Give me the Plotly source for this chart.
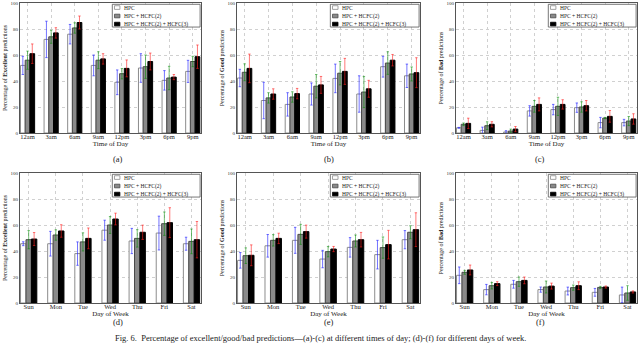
import plotly.graph_objects as go
from plotly.subplots import make_subplots

# ── Data ──────────────────────────────────────────────────────────────
TIMES = ['12am', '3am', '6am', '9am', '12pm', '3pm', '6pm', '9pm']
DAYS = ['Sun', 'Mon', 'Tue', 'Wed', 'Thu', 'Fri', 'Sat']
SERIES = ['HPC', 'HPC + HCFC(2)', 'HPC + HCFC(2) + HCFC(3)']

# (a) excellent predictions by time of day
EXC_TIME_HPC = [52, 72, 76, 52, 39, 50, 40.5, 47.4]
EXC_TIME_HPC_ERR = [7, 14, 7.5, 8, 9.5, 11, 7.5, 8.5]
EXC_TIME_H2 = [56, 74, 80.8, 56, 45.6, 51, 42.3, 55]
EXC_TIME_H2_ERR = [7, 5, 4, 6.5, 4, 9, 9, 4]
EXC_TIME_H3 = [61, 77, 85, 57, 49.7, 55, 43, 58.7]
EXC_TIME_H3_ERR = [7.5, 4, 5, 4, 6.5, 6.5, 2, 9]

# (b) good predictions by time of day
GOOD_TIME_HPC = [42.3, 25, 22, 30, 42, 30, 51, 44]
GOOD_TIME_HPC_ERR = [6.7, 14, 9, 8.5, 11, 14, 8, 9]
GOOD_TIME_H2 = [46.7, 27, 27.7, 36, 46, 31.5, 53.8, 45.4]
GOOD_TIME_H2_ERR = [6.5, 4, 4, 9, 9, 12, 8.7, 5.4]
GOOD_TIME_H3 = [49.7, 30, 30.3, 37, 47.4, 34, 56, 46.4]
GOOD_TIME_H3_ERR = [11, 4, 4, 6.5, 10, 6.5, 4.4, 11.5]

# (c) bad predictions by time of day
BAD_TIME_HPC = [4, 2, 0.8, 17, 18, 19.5, 8, 8]
BAD_TIME_HPC_ERR = [0.3, 2.5, 1, 4, 4, 3.6, 4, 2.5]
BAD_TIME_H2 = [6.7, 5.6, 1.5, 20.5, 20.5, 20, 11.5, 9.2]
BAD_TIME_H2_ERR = [1, 3, 1.5, 4.5, 7, 4, 0.5, 3.5]
BAD_TIME_H3 = [7.4, 6.7, 3, 22, 22, 21, 12.8, 10.8]
BAD_TIME_H3_ERR = [4, 2, 2, 5, 3.6, 4, 4.5, 4]

# (d) excellent predictions by day of week
EXC_DAY_HPC = [45.6, 45.6, 38, 56, 47.7, 53.8, 45.6]
EXC_DAY_HPC_ERR = [1.5, 9.5, 9, 7.7, 9.7, 13, 5]
EXC_DAY_H2 = [48.7, 52.3, 47, 60, 49.7, 61, 47.4]
EXC_DAY_H2_ERR = [7, 4, 7, 6.5, 6.7, 9, 9.5]
EXC_DAY_H3 = [49.2, 55.4, 49.7, 64.6, 54.4, 61.8, 48.7]
EXC_DAY_H3_ERR = [5, 4.8, 8, 4.5, 5.5, 11.5, 14]

# (e) good predictions by day of week
GOOD_DAY_HPC = [32.8, 44, 48.2, 33.8, 42.8, 37.2, 48.7]
GOOD_DAY_HPC_ERR = [6, 8.7, 10, 6.7, 7.5, 11, 7]
GOOD_DAY_H2 = [36.4, 48.2, 52.8, 39.5, 47.7, 42.6, 54.4]
GOOD_DAY_H2_ERR = [6, 4.4, 7.7, 4, 4.6, 8.2, 5]
GOOD_DAY_H3 = [36.7, 49.7, 54.9, 41.5, 48.7, 44.9, 56.4]
GOOD_DAY_H3_ERR = [8, 4, 5, 2, 5.6, 11, 13]

# (f) bad predictions by day of week
BAD_DAY_HPC = [21.3, 10.3, 14.4, 10.3, 9.2, 8.2, 6.2]
BAD_DAY_HPC_ERR = [6.4, 4, 3, 2, 3, 3, 6]
BAD_DAY_H2 = [23.6, 13.3, 16.4, 12.3, 11.8, 12, 7.7]
BAD_DAY_H2_ERR = [1.5, 2.5, 3.6, 4.6, 2, 0.8, 5.6]
BAD_DAY_H3 = [25.4, 14.9, 17.4, 13, 13.3, 12.3, 8.5]
BAD_DAY_H3_ERR = [3.8, 1.5, 2.6, 2.3, 3, 0.8, 0.8]

Y_TICKS = [0, 20, 40, 60, 80, 100]

PANELS = [
    ('Excellent', 'Time of Day', TIMES, '(a)',
     [(EXC_TIME_HPC, EXC_TIME_HPC_ERR), (EXC_TIME_H2, EXC_TIME_H2_ERR), (EXC_TIME_H3, EXC_TIME_H3_ERR)]),
    ('Good', 'Time of Day', TIMES, '(b)',
     [(GOOD_TIME_HPC, GOOD_TIME_HPC_ERR), (GOOD_TIME_H2, GOOD_TIME_H2_ERR), (GOOD_TIME_H3, GOOD_TIME_H3_ERR)]),
    ('Bad', 'Time of Day', TIMES, '(c)',
     [(BAD_TIME_HPC, BAD_TIME_HPC_ERR), (BAD_TIME_H2, BAD_TIME_H2_ERR), (BAD_TIME_H3, BAD_TIME_H3_ERR)]),
    ('Excellent', 'Day of Week', DAYS, '(d)',
     [(EXC_DAY_HPC, EXC_DAY_HPC_ERR), (EXC_DAY_H2, EXC_DAY_H2_ERR), (EXC_DAY_H3, EXC_DAY_H3_ERR)]),
    ('Good', 'Day of Week', DAYS, '(e)',
     [(GOOD_DAY_HPC, GOOD_DAY_HPC_ERR), (GOOD_DAY_H2, GOOD_DAY_H2_ERR), (GOOD_DAY_H3, GOOD_DAY_H3_ERR)]),
    ('Bad', 'Day of Week', DAYS, '(f)',
     [(BAD_DAY_HPC, BAD_DAY_HPC_ERR), (BAD_DAY_H2, BAD_DAY_H2_ERR), (BAD_DAY_H3, BAD_DAY_H3_ERR)]),
]

# ── Styling ───────────────────────────────────────────────────────────
FONT = 'Liberation Serif'
BAR_FILL = ['#ffffff', '#8a8a8a', '#000000']
BAR_LINE = ['#8c8c8c', '#4a4a4a', '#000000']
ERR_COLOR = ['rgba(40,40,255,0.65)', 'rgba(0,140,0,0.55)', 'rgba(255,30,30,0.6)']

W, H = 640, 352
X_PX = [(20, 201), (237, 420), (456, 637)]
Y_PX = [(3, 133), (173, 303)]

fig = make_subplots(rows=2, cols=3)

for i, (kind, xtitle, cats, tag, series) in enumerate(PANELS):
    r, c = divmod(i, 3)
    for s, (vals, errs) in enumerate(series):
        fig.add_trace(go.Bar(
            x=cats, y=vals, name=SERIES[s], showlegend=False,
            marker=dict(color=BAR_FILL[s], line=dict(color=BAR_LINE[s], width=1)),
            error_y=dict(type='data', array=errs, color=ERR_COLOR[s], thickness=1, width=1.2),
        ), row=r + 1, col=c + 1)

    k = '' if i == 0 else str(i + 1)
    x0, x1 = X_PX[c]
    y0, y1 = Y_PX[r]
    fig.layout['xaxis' + k].update(
        domain=[x0 / W, x1 / W], range=[-0.32, len(cats) - 1 + 0.35], automargin=False,
        showgrid=True, gridcolor='#d0d0d0', griddash='dot', gridwidth=0.6,
        showline=True, linecolor='#555', linewidth=1, mirror=True,
        ticks='', ticklabelstandoff=-3, tickfont=dict(family=FONT, size=6.5, color='#222'),
        title=dict(text=xtitle, font=dict(family=FONT, size=7, color='#222'), standoff=0),
    )
    fig.layout['yaxis' + k].update(
        domain=[1 - y1 / H, 1 - y0 / H], range=[0, 100], tickvals=Y_TICKS, automargin=False,
        showgrid=True, gridcolor='#d0d0d0', griddash='dot', gridwidth=0.6,
        showline=True, linecolor='#555', linewidth=1, mirror=True, zeroline=False,
        ticks='', tickfont=dict(family=FONT, size=5, color='#333'),
        title=dict(text=f'Percentage of <b>{kind}</b> predictions',
                   font=dict(family=FONT, size=6, color='#222'), standoff=2),
    )

    # panel label
    fig.add_annotation(text=tag, xref='paper', yref='paper',
                       x=(x0 + x1) / 2 / W, y=1 - (y1 + 26) / H,
                       showarrow=False, font=dict(family=FONT, size=8.5, color='#222'))

    # legend box drawn in axis-domain coords
    xr, yr = f'x{k} domain', f'y{k} domain'
    fig.add_shape(type='rect', xref=xr, yref=yr, x0=0.51, x1=0.995, y0=0.815, y1=0.99,
                  line=dict(color='#555', width=0.8), fillcolor='white', layer='above')
    for s, ly in enumerate([0.965, 0.9, 0.838]):
        fig.add_shape(type='rect', xref=xr, yref=yr, x0=0.522, x1=0.552,
                      y0=ly - 0.014, y1=ly + 0.014,
                      fillcolor=BAR_FILL[s], line=dict(color=BAR_LINE[s], width=0.8), layer='above')
        fig.add_annotation(text=SERIES[s], xref=xr, yref=yr, x=0.565, y=ly,
                           xanchor='left', yanchor='middle', showarrow=False,
                           font=dict(family=FONT, size=5.5, color='#222'))

fig.add_annotation(
    text='Fig. 6.  Percentage of excellent/good/bad predictions\u2014(a)-(c) at different times of day; '
         '(d)-(f) for different days of week.',
    xref='paper', yref='paper', x=0.5, y=1 - 345 / H, showarrow=False,
    font=dict(family=FONT, size=8.5, color='#222'))

fig.update_layout(
    width=W, height=H, margin=dict(l=0, r=0, t=0, b=0),
    paper_bgcolor='white', plot_bgcolor='white',
    barmode='group', bargap=0.4, bargroupgap=0,
    showlegend=False, font=dict(family=FONT),
)

fig.write_html('out.html', config={'displayModeBar': False},
               post_script="document.body.style.margin='0';")
